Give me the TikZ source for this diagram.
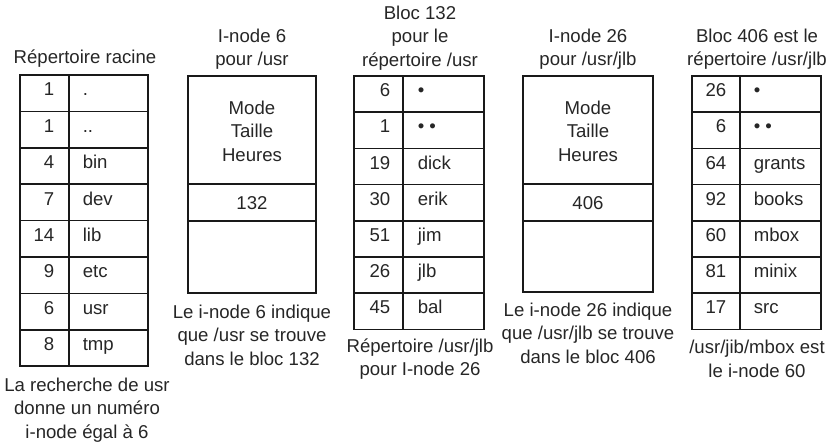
\documentclass[tikz,border=0pt]{standalone}
\usepackage{fontspec}
\setmainfont{Liberation Sans}
\begin{document}
\begin{tikzpicture}[x=1pt,y=-1pt,line width=1.5pt,
  every node/.style={font=\fontsize{18.6}{23.5}\selectfont,inner sep=0pt,text=black!85},
  lbl/.style={align=center},
  num/.style={anchor=mid east},
  nam/.style={anchor=mid west},
  boxline/.style={draw=black!90,line width=1.5pt}]
\useasboundingbox (0,0) rectangle (833,447);

% ---------- Root directory ----------
\node[lbl] (rtitle) at (85,59) {Répertoire racine};
\draw[boxline] (20,75) rectangle (148,366.2);
\draw[boxline] (69,75) -- (69,366.2);
\foreach \i in {1,...,7} \draw[boxline] (20,{75+36.4*\i}) -- (148,{75+36.4*\i});
\foreach \n/\s [count=\i] in {1/.,1/..,4/bin,7/dev,14/lib,9/etc,6/usr,8/tmp} {
  \node[num] (rn\i) at (55,{75+36.4*(\i-0.5)}) {\n};
  \node[nam] (rs\i) at (82,{75+36.4*(\i-0.5)}) {\s};
}
\node[lbl] (rcap) at (87,410) {La recherche de usr\\donne un numéro\\i-node égal à 6};

% ---------- I-node 6 ----------
\node[lbl] (i6title) at (252,49) {I-node 6\\pour /usr};
\draw[boxline] (188,76) rectangle (316,293);
\draw[boxline] (188,184) -- (316,184);
\draw[boxline] (188,221) -- (316,221);
\node[lbl] (i6attr) at (252,131) {Mode\\Taille\\Heures};
\node (i6blk) at (252,203) {132};
\node[lbl] (i6cap) at (252,335) {Le i-node 6 indique\\que /usr se trouve\\dans le bloc 132};

% ---------- Bloc 132 ----------
\node[lbl] (b132title) at (420,38) {Bloc 132\\pour le\\répertoire /usr};
\draw[boxline] (354,76) rectangle (484,329.4);
\draw[boxline] (403,76) -- (403,329.4);
\foreach \i in {1,...,6} \draw[boxline] (354,{76+36.2*\i}) -- (484,{76+36.2*\i});
\foreach \n/\s [count=\i] in {6/•,1/• •,19/dick,30/erik,51/jim,26/jlb,45/bal} {
  \node[num] (an\i) at (391,{76+36.2*(\i-0.5)}) {\n};
  \node[nam] (as\i) at (417,{76+36.2*(\i-0.5)}) {\s};
}
\node[lbl] (b132cap) at (420,359) {Répertoire /usr/jlb\\pour I-node 26};

% ---------- I-node 26 ----------
\node[lbl] (i26title) at (588,49) {I-node 26\\pour /usr/jlb};
\draw[boxline] (523,76) rectangle (653,292);
\draw[boxline] (523,184) -- (653,184);
\draw[boxline] (523,221) -- (653,221);
\node[lbl] (i26attr) at (588,131) {Mode\\Taille\\Heures};
\node (i26blk) at (588,203) {406};
\node[lbl] (i26cap) at (588,333) {Le i-node 26 indique\\que /usr/jlb se trouve\\dans le bloc 406};

% ---------- Bloc 406 ----------
\node[lbl] (b406title) at (757,49) {Bloc 406 est le\\répertoire /usr/jlb};
\draw[boxline] (692,76) rectangle (821,329.4);
\draw[boxline] (740,76) -- (740,329.4);
\foreach \i in {1,...,6} \draw[boxline] (692,{76+36.2*\i}) -- (821,{76+36.2*\i});
\foreach \n/\s [count=\i] in {26/•,6/• •,64/grants,92/books,60/mbox,81/minix,17/src} {
  \node[num] (bn\i) at (727,{76+36.2*(\i-0.5)}) {\n};
  \node[nam] (bs\i) at (753,{76+36.2*(\i-0.5)}) {\s};
}
\node[lbl] (b406cap) at (757,359) {/usr/jib/mbox est\\le i-node 60};
\end{tikzpicture}
\end{document}
